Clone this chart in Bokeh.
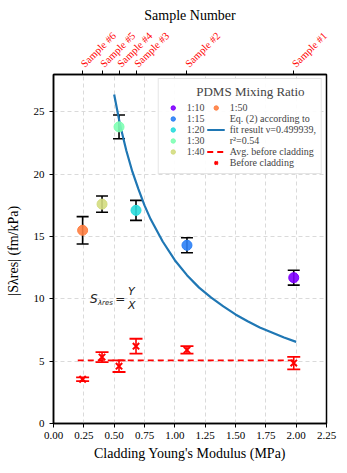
import numpy as np
from bokeh.plotting import figure
from bokeh.models import (Range1d, LinearAxis, FixedTicker, Whisker, ColumnDataSource,
                          Legend, LegendItem, Label, TeeHead)
from bokeh.embed import file_html
from bokeh.resources import INLINE

# ---------------- data ----------------
ratios = ["1:10", "1:15", "1:20", "1:30", "1:40", "1:50"]
modulus = [1.98, 1.10, 0.68, 0.54, 0.40, 0.24]          # MPa
sens = [11.7, 14.3, 17.1, 23.8, 17.6, 15.5]             # fm/kPa, after cladding
sens_err = [0.6, 0.6, 0.8, 0.95, 0.65, 1.1]
colors = ["#8000ff", "#2b80f6", "#2adddd", "#80ffb4", "#d4dd80", "#ff8042"]

before = [4.85, 5.9, 6.2, 4.6, 5.33, 3.55]              # before cladding
before_err = [0.5, 0.3, 0.6, 0.47, 0.4, 0.15]

sample_names = ["Sample #1", "Sample #2", "Sample #3", "Sample #4", "Sample #5", "Sample #6"]

fit_x = [0.5, 0.55, 0.6, 0.65, 0.7, 0.75, 0.8, 0.9, 1.0, 1.1, 1.2, 1.3, 1.4, 1.5, 1.6, 1.7, 1.8, 1.9, 2.0]
fit_y = [26.4, 23.9, 21.9, 20.2, 18.8, 17.5, 16.4, 14.6, 13.1, 11.9, 10.9, 10.1, 9.4, 8.75, 8.2,
         7.7, 7.3, 6.9, 6.55]

avg_x = [0.2, 2.0]
avg_val = float(np.mean(before))

xticks = [0, 0.25, 0.5, 0.75, 1.0, 1.25, 1.5, 1.75, 2.0, 2.25]
yticks = [0, 5, 10, 15, 20, 25]

fit_label = ["Eq. (2) according to", "fit result ν=0.499939,", "r²=0.54"]

SERIF = "Liberation Serif"

# ---------------- figure ----------------
p = figure(width=339, height=465, output_backend="svg", toolbar_location=None,
           x_range=Range1d(0, 2.25), y_range=Range1d(0, 28),
           min_border_left=53, min_border_right=13, min_border_top=74, min_border_bottom=42)

p.outline_line_color = "black"
p.outline_line_width = 1.5
p.background_fill_color = "white"

for ax in (p.xaxis[0], p.yaxis[0]):
    ax.axis_line_width = 1.5
    ax.major_tick_line_width = 1
    ax.major_tick_in = 0
    ax.major_tick_out = 4
    ax.minor_tick_line_color = None
    ax.major_label_text_font = SERIF
    ax.major_label_text_font_size = "11px"
    ax.major_label_text_color = "black"
    ax.axis_label_text_font = SERIF
    ax.axis_label_text_font_style = "normal"
    ax.axis_label_text_font_size = "14px"
    ax.axis_label_text_color = "black"

p.xaxis[0].ticker = FixedTicker(ticks=xticks)
p.xaxis[0].major_label_overrides = {t: f"{t:.2f}" for t in xticks}
p.xaxis[0].axis_label = "Cladding Young's Modulus (MPa)"
p.xaxis[0].major_label_standoff = 4
p.xaxis[0].axis_label_standoff = 4

p.yaxis[0].ticker = FixedTicker(ticks=yticks)
p.yaxis[0].axis_label = "|Sλres|  (fm/kPa)"
p.yaxis[0].major_label_standoff = 5
p.yaxis[0].axis_label_standoff = 10

for g in (p.xgrid[0], p.ygrid[0]):
    g.grid_line_color = "#d0d0d0"
    g.grid_line_dash = "4 3"
    g.grid_line_width = 0.8
p.xgrid[0].ticker = FixedTicker(ticks=xticks)
p.ygrid[0].ticker = FixedTicker(ticks=yticks)

# top axis with sample numbers
top = LinearAxis(ticker=FixedTicker(ticks=modulus),
                 major_label_overrides={m: s for m, s in zip(modulus, sample_names)})
top.axis_label = "Sample Number"
top.axis_label_text_font = SERIF
top.axis_label_text_font_style = "normal"
top.axis_label_text_font_size = "14px"
top.axis_label_text_color = "black"
top.axis_label_standoff = 0
top.major_label_text_font = SERIF
top.major_label_text_font_size = "10.5px"
top.major_label_text_color = "red"
top.major_label_orientation = np.pi / 4
top.major_label_standoff = 5
top.axis_line_width = 1.5
top.major_tick_in = 0
top.major_tick_out = 4
top.minor_tick_line_color = None
p.add_layout(top, "above")

# ---------------- glyphs ----------------
src = ColumnDataSource(dict(x=modulus, y=sens, up=[s + e for s, e in zip(sens, sens_err)],
                            lo=[s - e for s, e in zip(sens, sens_err)], color=colors, ratio=ratios))
bsrc = ColumnDataSource(dict(x=modulus, y=before, up=[s + e for s, e in zip(before, before_err)],
                             lo=[s - e for s, e in zip(before, before_err)]))

fit = p.line(fit_x, fit_y, line_color="#1f77b4", line_width=2.2)

avg = p.line(avg_x, [avg_val, avg_val], line_color="red", line_width=1.8, line_dash="6 4")

p.add_layout(Whisker(base="x", upper="up", lower="lo", source=bsrc, line_color="red", line_width=1.6,
                     upper_head=TeeHead(size=13, line_color="red", line_width=1.8),
                     lower_head=TeeHead(size=13, line_color="red", line_width=1.8)))
bx = p.scatter("x", "y", source=bsrc, marker="x", size=9, line_color="red", line_width=2)

p.add_layout(Whisker(base="x", upper="up", lower="lo", source=src, line_color="black", line_width=1.6,
                     upper_head=TeeHead(size=12, line_color="black", line_width=1.6),
                     lower_head=TeeHead(size=12, line_color="black", line_width=1.6)))

pts = []
for i in range(len(ratios)):
    r = p.scatter([modulus[i]], [sens[i]], marker="circle", size=10, fill_color=colors[i],
                  line_color=colors[i], fill_alpha=0.9)
    pts.append(r)

# invisible renderer used only for text-only legend rows
blank = p.line(x=[], y=[], line_alpha=0)

# formula text
fs = "DejaVu Sans"
p.add_layout(Label(x=0.30, y=10, text="S", text_font=fs, text_font_style="italic",
                   text_font_size="12px", text_baseline="middle", text_color="#222222"))
p.add_layout(Label(x=0.30, y=10, x_offset=8, y_offset=-4, text="λres", text_font=fs,
                   text_font_style="italic", text_font_size="7px", text_baseline="middle",
                   text_color="#222222"))
p.add_layout(Label(x=0.50, y=10, x_offset=1, text="=", text_font=fs, text_font_size="12px",
                   text_baseline="middle", text_color="#222222"))
p.add_layout(Label(x=0.615, y=10, y_offset=7, text="Y", text_font=fs, text_font_style="italic",
                   text_font_size="11px", text_baseline="middle", text_color="#222222"))
p.add_layout(Label(x=0.615, y=10, y_offset=-7, text="X", text_font=fs, text_font_style="italic",
                   text_font_size="11px", text_baseline="middle", text_color="#222222"))

# ---------------- legend ----------------
items = [LegendItem(label=ratios[i], renderers=[pts[i]]) for i in range(5)]
items.append(LegendItem(label=" ", renderers=[blank]))
items.append(LegendItem(label=ratios[5], renderers=[pts[5]]))
items.append(LegendItem(label=fit_label[0], renderers=[blank]))
items.append(LegendItem(label=fit_label[1], renderers=[fit]))
items.append(LegendItem(label=fit_label[2], renderers=[blank]))
items.append(LegendItem(label="Avg. before cladding", renderers=[avg]))
items.append(LegendItem(label="Before cladding", renderers=[bx]))

legend = Legend(items=items, location="top_right", ncols=2,
                title="\u00a0" * 10 + "PDMS Mixing Ratio",
                title_text_font=SERIF, title_text_font_size="13px", title_text_font_style="normal",
                title_standoff=2,
                label_text_font=SERIF, label_text_font_size="10px",
                glyph_width=18, glyph_height=11, label_height=11, spacing=0, padding=5, margin=4,
                border_line_color="#cccccc", background_fill_alpha=0.9, label_standoff=5)
p.add_layout(legend)

open("out.html", "w").write(file_html(p, INLINE))
